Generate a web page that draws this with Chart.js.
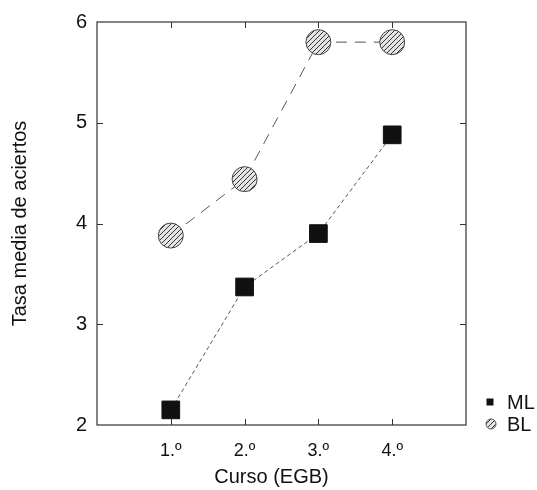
<!DOCTYPE html>
<html>
<head>
<meta charset="utf-8">
<script src="https://cdn.jsdelivr.net/npm/chart.js@4/dist/chart.umd.min.js"></script>
<style>
html,body{margin:0;padding:0;background:#fff;}
#wrap{width:537px;height:490px;}
</style>
</head>
<body>
<div id="wrap"><canvas id="c" width="537" height="490"></canvas></div>
<script>
const courses = [1, 2, 3, 4];
const courseLabels = ['1.º', '2.º', '3.º', '4.º'];
const mlValues = [2.15, 3.37, 3.9, 4.88];
const blValues = [3.88, 4.44, 5.8, 5.8];
const yTicks = [2, 3, 4, 5, 6];
const seriesNames = ['ML', 'BL'];
const xTitle = 'Curso (EGB)';
const yTitle = 'Tasa media de aciertos';

const FONT = '"Liberation Sans", Arial, Helvetica, sans-serif';

function hatch() {
  const p = document.createElement('canvas');
  p.width = 5; p.height = 5;
  const g = p.getContext('2d');
  g.fillStyle = '#e4e4e4';
  g.fillRect(0, 0, 5, 5);
  g.strokeStyle = '#333';
  g.lineWidth = 1;
  g.beginPath();
  g.moveTo(0, 5); g.lineTo(5, 0);
  g.moveTo(-1, 1); g.lineTo(1, -1);
  g.moveTo(4, 6); g.lineTo(6, 4);
  g.stroke();
  return g.createPattern(p, 'repeat');
}
const hatchPattern = hatch();

const toPts = (vals) => courses.map((c, i) => ({ x: c, y: vals[i] }));

const boxPlugin = {
  id: 'boxTicks',
  afterDraw(chart) {
    const { ctx, chartArea: a, scales } = chart;
    ctx.save();
    ctx.strokeStyle = '#333';
    ctx.lineWidth = 1.2;
    ctx.strokeRect(a.left, a.top, a.right - a.left, a.bottom - a.top);
    ctx.lineWidth = 1;
    const L = 6;
    ctx.beginPath();
    courses.forEach(c => {
      const x = Math.round(scales.x.getPixelForValue(c)) + 0.5;
      ctx.moveTo(x, a.top); ctx.lineTo(x, a.top + L);
      ctx.moveTo(x, a.bottom); ctx.lineTo(x, a.bottom - L);
    });
    yTicks.slice(1, -1).forEach(v => {
      const y = Math.round(scales.y.getPixelForValue(v)) + 0.5;
      ctx.moveTo(a.left, y); ctx.lineTo(a.left + L, y);
      ctx.moveTo(a.right, y); ctx.lineTo(a.right - L, y);
    });
    ctx.stroke();

    // x axis title (slightly left of centre, as in the original)
    ctx.font = '20px ' + FONT;
    ctx.fillStyle = '#111';
    ctx.textAlign = 'center';
    ctx.textBaseline = 'middle';
    ctx.fillText(xTitle, (a.left + a.right) / 2 - 10, 477);

    // legend
    const lx = 490;
    const rows = [402, 424];
    ctx.textAlign = 'left';
    chart.data.datasets.forEach((ds, i) => {
      const y = rows[i];
      if (ds.pointStyle === 'rect') {
        ctx.fillStyle = '#111';
        ctx.fillRect(lx - 3.5, y - 3.5, 7, 7);
      } else {
        ctx.beginPath();
        ctx.arc(lx + 1, y, 5, 0, Math.PI * 2);
        ctx.fillStyle = hatchPattern;
        ctx.fill();
        ctx.strokeStyle = '#555';
        ctx.stroke();
      }
      ctx.fillStyle = '#111';
      ctx.fillText(ds.label, 507, y + 1);
    });
    ctx.restore();
  }
};

new Chart(document.getElementById('c'), {
  type: 'scatter',
  data: {
    datasets: [
      {
        label: seriesNames[0],
        data: toPts(mlValues),
        showLine: true,
        borderColor: '#555',
        borderWidth: 1,
        borderDash: [4, 3],
        pointStyle: 'rect',
        pointRadius: 12.5,
        pointBackgroundColor: '#111',
        pointBorderColor: '#111',
        pointBorderWidth: 1
      },
      {
        label: seriesNames[1],
        data: toPts(blValues),
        showLine: true,
        borderColor: '#555',
        borderWidth: 1,
        borderDash: [11, 8],
        pointStyle: 'circle',
        pointRadius: 12.5,
        pointBackgroundColor: hatchPattern,
        pointBorderColor: '#444',
        pointBorderWidth: 1
      }
    ]
  },
  options: {
    responsive: false,
    animation: false,
    layout: { padding: { top: 20, right: 71, left: 0, bottom: 0 } },
    plugins: { legend: { display: false }, tooltip: { enabled: false } },
    scales: {
      x: {
        type: 'linear',
        min: 0, max: 5,
        afterBuildTicks: (s) => { s.ticks = courses.map(v => ({ value: v })); },
        afterFit: (s) => { s.height = 65; },
        grid: { display: false, drawTicks: false },
        border: { display: false },
        ticks: {
          padding: 15,
          color: '#111',
          font: { family: FONT, size: 18 },
          callback: (v) => courseLabels[courses.indexOf(v)] ?? ''
        },
        title: { display: false, text: xTitle }
      },
      y: {
        min: 2, max: 6,
        afterBuildTicks: (s) => { s.ticks = yTicks.map(v => ({ value: v })); },
        afterFit: (s) => { s.width = 97; },
        grid: { display: false, drawTicks: false },
        border: { display: false },
        ticks: {
          padding: 10,
          color: '#111',
          font: { family: FONT, size: 20 },
          callback: (v) => String(v)
        },
        title: {
          display: true, text: yTitle, color: '#111',
          font: { family: FONT, size: 20 },
          padding: { top: 8, bottom: 0 }
        }
      }
    }
  },
  plugins: [boxPlugin]
});
</script>
</body>
</html>
